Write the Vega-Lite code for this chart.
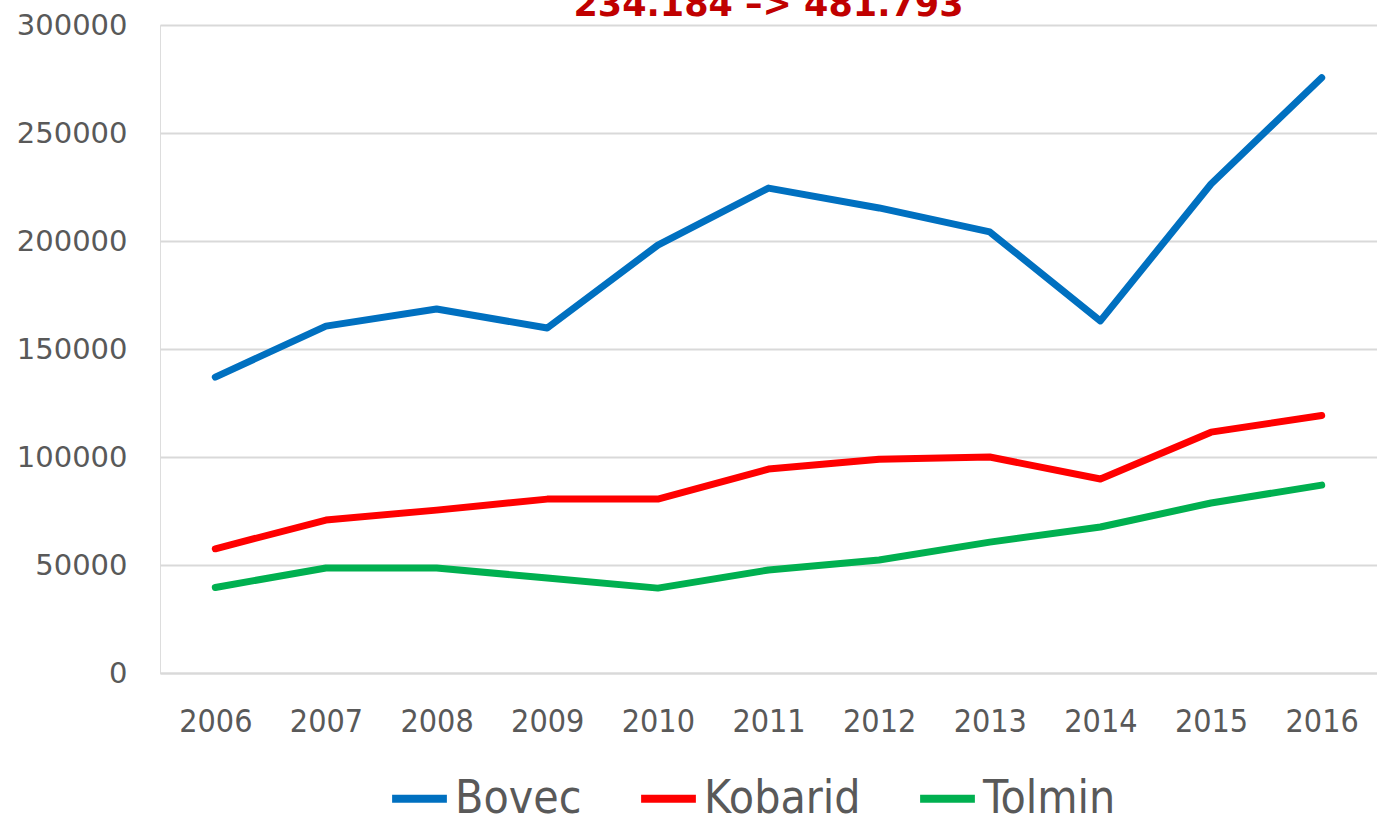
{
  "$schema": "https://vega.github.io/schema/vega-lite/v6.json",
  "width": 1217,
  "height": 648,
  "autosize": {"type": "none"},
  "padding": {"left": 160, "top": 25, "right": 0, "bottom": 146},
  "background": "white",
  "title": {
    "text": "234.184 –> 481.793",
    "font": "DejaVu Sans",
    "fontSize": 35,
    "fontWeight": "bold",
    "color": "#C00000",
    "anchor": "middle",
    "baseline": "alphabetic",
    "offset": 0,
    "dy": 40
  },
  "data": {
    "values": [
      {"year": "2006", "place": "Bovec", "value": 137000},
      {"year": "2007", "place": "Bovec", "value": 160600},
      {"year": "2008", "place": "Bovec", "value": 168500},
      {"year": "2009", "place": "Bovec", "value": 159700},
      {"year": "2010", "place": "Bovec", "value": 198100},
      {"year": "2011", "place": "Bovec", "value": 224500},
      {"year": "2012", "place": "Bovec", "value": 215300},
      {"year": "2013", "place": "Bovec", "value": 204200},
      {"year": "2014", "place": "Bovec", "value": 163000},
      {"year": "2015", "place": "Bovec", "value": 226400},
      {"year": "2016", "place": "Bovec", "value": 275600},
      {"year": "2006", "place": "Kobarid", "value": 57500},
      {"year": "2007", "place": "Kobarid", "value": 70800},
      {"year": "2008", "place": "Kobarid", "value": 75400},
      {"year": "2009", "place": "Kobarid", "value": 80500},
      {"year": "2010", "place": "Kobarid", "value": 80500},
      {"year": "2011", "place": "Kobarid", "value": 94400},
      {"year": "2012", "place": "Kobarid", "value": 99000},
      {"year": "2013", "place": "Kobarid", "value": 100000},
      {"year": "2014", "place": "Kobarid", "value": 89800},
      {"year": "2015", "place": "Kobarid", "value": 111500},
      {"year": "2016", "place": "Kobarid", "value": 119200},
      {"year": "2006", "place": "Tolmin", "value": 39600},
      {"year": "2007", "place": "Tolmin", "value": 48600},
      {"year": "2008", "place": "Tolmin", "value": 48600},
      {"year": "2009", "place": "Tolmin", "value": 44000},
      {"year": "2010", "place": "Tolmin", "value": 39300},
      {"year": "2011", "place": "Tolmin", "value": 47700},
      {"year": "2012", "place": "Tolmin", "value": 52300},
      {"year": "2013", "place": "Tolmin", "value": 60600},
      {"year": "2014", "place": "Tolmin", "value": 67600},
      {"year": "2015", "place": "Tolmin", "value": 78700},
      {"year": "2016", "place": "Tolmin", "value": 87000}
    ]
  },
  "mark": {"type": "line", "strokeWidth": 7, "strokeCap": "round", "strokeJoin": "round"},
  "encoding": {
    "x": {
      "field": "year",
      "type": "ordinal",
      "scale": {"type": "point", "padding": 0.5},
      "axis": {
        "title": null,
        "labelAngle": 0,
        "labelFont": "DejaVu Sans Condensed, Lato, sans-serif",
        "labelFontSize": 32,
        "labelColor": "#595959",
        "labelPadding": 33,
        "ticks": false,
        "domain": true,
        "domainColor": "#d9d9d9",
        "domainWidth": 2,
        "grid": false
      }
    },
    "y": {
      "field": "value",
      "type": "quantitative",
      "scale": {"domain": [0, 300000], "nice": false},
      "axis": {
        "title": null,
        "values": [0, 50000, 100000, 150000, 200000, 250000, 300000],
        "format": "d",
        "labelFont": "DejaVu Sans",
        "labelFontSize": 29,
        "labelColor": "#595959",
        "labelPadding": 33,
        "ticks": false,
        "domain": false,
        "grid": true,
        "gridColor": "#d9d9d9",
        "gridWidth": 2
      }
    },
    "color": {
      "field": "place",
      "type": "nominal",
      "scale": {"domain": ["Bovec", "Kobarid", "Tolmin"], "range": ["#0070C0", "#FF0000", "#00B050"]},
      "legend": {
        "title": null,
        "orient": "none",
        "legendX": 228,
        "legendY": 742,
        "direction": "horizontal",
        "symbolType": "stroke",
        "symbolSize": 3000,
        "symbolStrokeWidth": 8,
        "labelFont": "DejaVu Sans Condensed, Lato, sans-serif",
        "labelFontSize": 46,
        "labelColor": "#595959",
        "labelOffset": 4,
        "columnPadding": 43
      }
    }
  }
}
